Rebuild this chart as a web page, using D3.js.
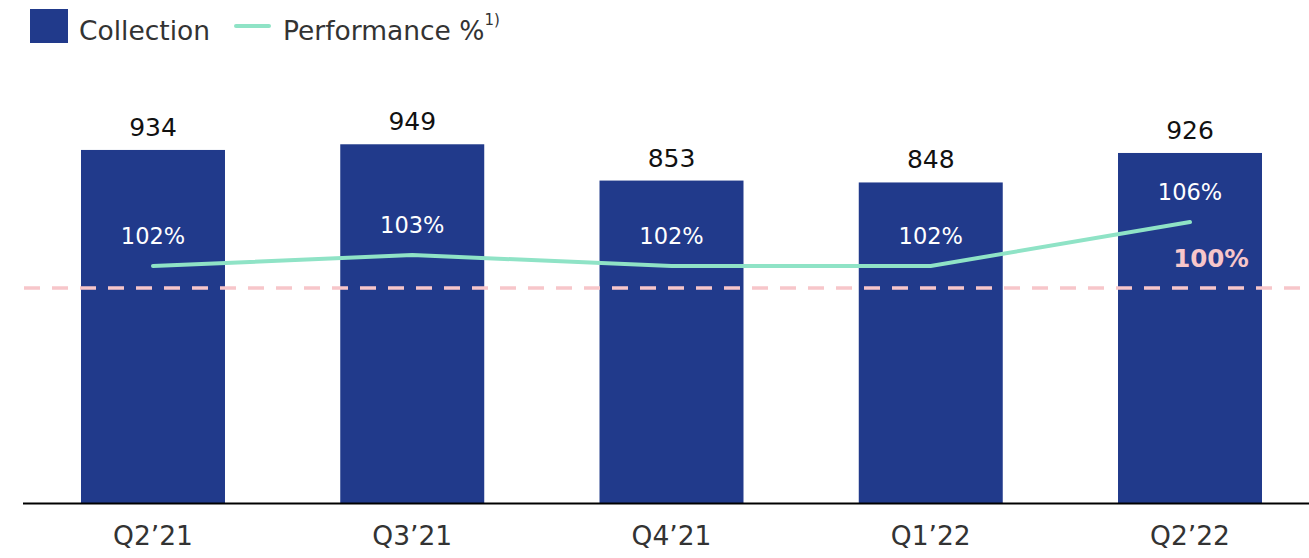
<!DOCTYPE html>
<html>
<head>
<meta charset="utf-8">
<script src="https://cdn.jsdelivr.net/npm/d3@7"></script>
<style>
  body { margin: 0; background: #fff; }
  text { font-family: "DejaVu Sans", sans-serif; }
</style>
</head>
<body>
<div id="chart"></div>
<script>
// data
const quarters = ["Q2\u201921", "Q3\u201921", "Q4\u201921", "Q1\u201922", "Q2\u201922"];
const collection = [934, 949, 853, 848, 926];
const performance = [102, 103, 102, 102, 106];
const reference = 100;

const W = 1309, H = 558;
const barColor = "#213a8b", lineColor = "#8fe3c6", refColor = "#f7c6ca", textColor = "#333";

const svg = d3.select("#chart").append("svg")
    .attr("width", W)
    .attr("height", H);

// scales
const x = d3.scaleBand().domain(quarters).range([81, 1262]).paddingInner(0.4446).paddingOuter(0);
const y = d3.scaleLinear().domain([0, 1000]).range([503, 125]);
const yPct = d3.scaleLinear().domain([100, 106]).range([288, 222]);

// bars
svg.selectAll("rect.bar")
    .data(collection)
    .join("rect")
    .attr("class", "bar")
    .attr("x", (d, i) => x(quarters[i]))
    .attr("y", d => y(d))
    .attr("width", x.bandwidth())
    .attr("height", d => y(0) - y(d))
    .attr("fill", barColor);

// value labels above bars
svg.selectAll("text.val")
    .data(collection)
    .join("text")
    .attr("class", "val")
    .attr("x", (d, i) => x(quarters[i]) + x.bandwidth() / 2)
    .attr("y", d => y(d) - 14)
    .attr("text-anchor", "middle")
    .attr("font-size", 25)
    .attr("fill", "#111")
    .text(d => d);

// x axis
const xAxis = svg.append("g")
    .attr("transform", "translate(0,503)")
    .call(d3.axisBottom(x).tickSize(0).tickPadding(23));
xAxis.select(".domain").remove();
xAxis.selectAll("text")
    .attr("font-size", 26.5)
    .attr("fill", textColor)
    .attr("font-family", "DejaVu Sans, sans-serif");
svg.append("line")
    .attr("x1", 23).attr("x2", W)
    .attr("y1", 503.5).attr("y2", 503.5)
    .attr("stroke", "#000")
    .attr("stroke-width", 2);

// 100% reference line
svg.append("line")
    .attr("x1", 24).attr("x2", W)
    .attr("y1", yPct(reference)).attr("y2", yPct(reference))
    .attr("stroke", refColor)
    .attr("stroke-width", 3.5)
    .attr("stroke-dasharray", "16,12");

svg.append("text")
    .attr("x", 1211)
    .attr("y", yPct(reference) - 21)
    .attr("text-anchor", "middle")
    .attr("font-size", 24.5)
    .attr("font-weight", "bold")
    .attr("fill", refColor)
    .text(reference + "%");

// performance line
const line = d3.line()
    .x((d, i) => x(quarters[i]) + x.bandwidth() / 2)
    .y(d => yPct(d));

svg.append("path")
    .datum(performance)
    .attr("d", line)
    .attr("fill", "none")
    .attr("stroke", lineColor)
    .attr("stroke-width", 4)
    .attr("stroke-linecap", "round");

svg.selectAll("text.pct")
    .data(performance)
    .join("text")
    .attr("class", "pct")
    .attr("x", (d, i) => x(quarters[i]) + x.bandwidth() / 2)
    .attr("y", d => yPct(d) - 22)
    .attr("text-anchor", "middle")
    .attr("font-size", 22.5)
    .attr("fill", "#fff")
    .text(d => d + "%");

// legend
const legend = svg.append("g");
legend.append("rect")
    .attr("x", 30).attr("y", 9)
    .attr("width", 38).attr("height", 34)
    .attr("fill", barColor);
legend.append("text")
    .attr("x", 79).attr("y", 40)
    .attr("font-size", 26.5)
    .attr("fill", textColor)
    .text("Collection");
legend.append("line")
    .attr("x1", 236).attr("x2", 269)
    .attr("y1", 26).attr("y2", 26)
    .attr("stroke", lineColor)
    .attr("stroke-width", 4)
    .attr("stroke-linecap", "round");
const perf = legend.append("text")
    .attr("x", 283).attr("y", 40)
    .attr("font-size", 26.5)
    .attr("fill", textColor)
    .text("Performance %");
perf.append("tspan")
    .attr("font-size", 15)
    .attr("dy", -15)
    .attr("dx", 0)
    .text("1)");
</script>
</body>
</html>
